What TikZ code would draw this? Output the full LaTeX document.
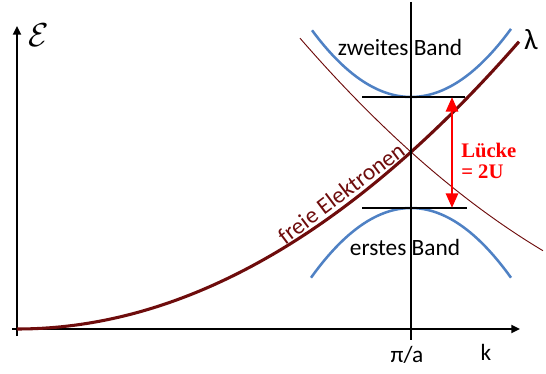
\documentclass[tikz,border=0pt]{standalone}
\usepackage{fontspec}
\setmainfont{Carlito}
\newfontfamily\lueckefont{Liberation Serif}
\usetikzlibrary{arrows.meta}
\definecolor{elektronrot}{RGB}{110,12,12}
\definecolor{bandblau}{RGB}{79,129,196}
\tikzset{
  achse/.style={line width=1.5pt, -{Triangle[length=6.5pt,width=6pt]}},
  band/.style={bandblau, line width=1.9pt},
  freiel/.style={elektronrot, line width=2.3pt},
  spiegel/.style={elektronrot, line width=0.7pt},
  kante/.style={black, line width=1.4pt},
  luecke/.style={red, line width=2.2pt, {Triangle[length=11pt,width=9pt]}-{Triangle[length=11pt,width=9pt]}},
  beschrift/.style={font=\fontsize{17.5}{20}\selectfont, inner sep=0pt}
}
\begin{document}
\begin{tikzpicture}[x=0.75pt,y=-0.75pt]
  \useasboundingbox (0,0) rectangle (546,374);

  % Axes
  \coordinate (yfuss) at (17,336);
  \coordinate (ykopf) at (17,26);
  \coordinate (xfuss) at (12,329);
  \coordinate (xkopf) at (520,329);
  \draw[achse] (yfuss) -- (ykopf);
  \draw[achse] (xfuss) -- (xkopf);
  \node[font=\fontsize{24}{26}\selectfont] (energie) at (39,35) {$\mathcal{E}$};
  \node[beschrift] (kwert) at (486,352) {k};
  \node[beschrift] (pia) at (407,355) {π/a};

  % Free electron parabola and its mirror image at pi/a
  \draw[spiegel] plot[domain=300:543, samples=60] (\x,{329-((805-\x)*0.03377)^2});
  \draw[freiel] plot[domain=17:519, samples=80] (\x,{329-((\x-17)*0.03377)^2});
  \node[beschrift, elektronrot, rotate=37] (freielab) at (341,193) {freie Elektronen};
  \node[font=\fontsize{22}{24}\selectfont, inner sep=0pt] (lambda) at (531,40) {λ};

  % Bands
  \draw[band] plot[domain=312:511, samples=50] (\x,{97-((\x-411)*0.0825)^2});
  \draw[band] plot[domain=311:511, samples=50] (\x,{208+((\x-411)*0.0835)^2});
  \node[beschrift] (zweites) at (400,47) {zweites Band};
  \node[beschrift] (erstes) at (405,247) {erstes Band};

  % Band edges and zone boundary
  \coordinate (oben1) at (362,97);
  \coordinate (oben2) at (465,97);
  \coordinate (unten1) at (362,208);
  \coordinate (unten2) at (467,208);
  \draw[kante] (oben1) -- (oben2);
  \draw[kante] (unten1) -- (unten2);
  \coordinate (zbOben) at (411,2);
  \coordinate (zbUnten) at (411,340);
  \draw[kante] (zbOben) -- (zbUnten);

  % Gap
  \coordinate (pfeilOben) at (452,97);
  \coordinate (pfeilUnten) at (452,208);
  \draw[luecke] (pfeilOben) -- (pfeilUnten);
  \node[red, anchor=west, align=left, inner sep=0pt,
        font=\lueckefont\bfseries\fontsize{15.5}{15.75}\selectfont] (lueckelab) at (461,161) {Lücke\\= 2U};
\end{tikzpicture}
\end{document}
